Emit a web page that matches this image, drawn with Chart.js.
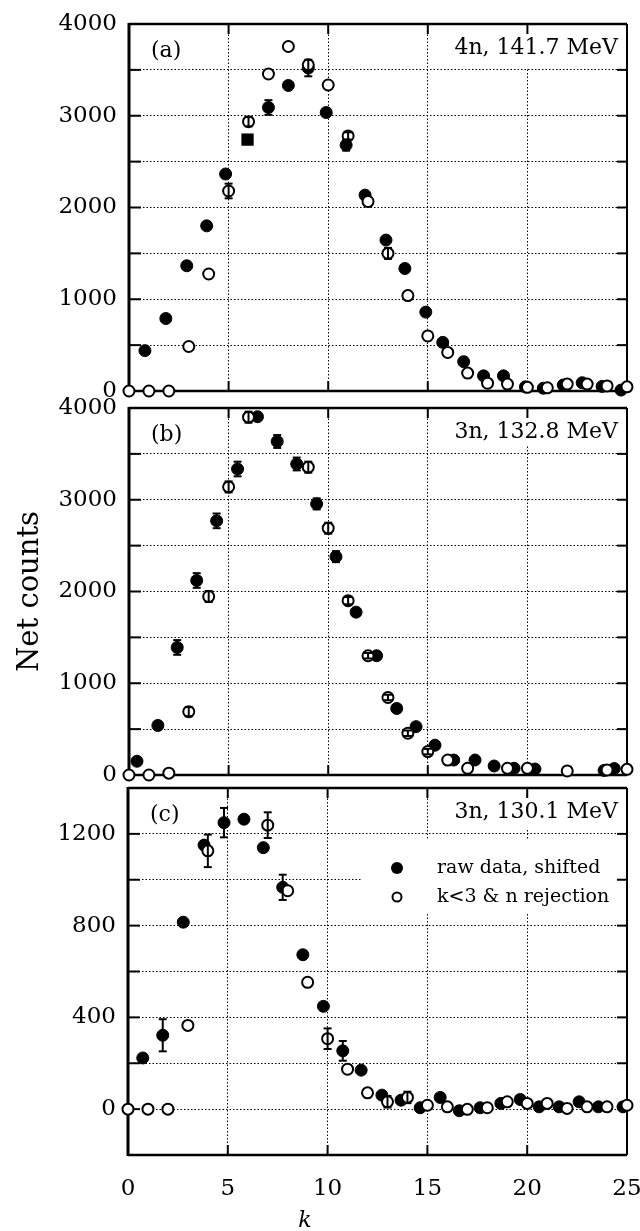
<!DOCTYPE html>
<html>
<head>
<meta charset="utf-8">
<script src="https://cdn.jsdelivr.net/npm/chart.js@4.4.1/dist/chart.umd.min.js"></script>
<style>
  html, body { margin: 0; padding: 0; background: #fff; }
  #wrap { position: relative; width: 640px; height: 1231px; }
  #wrap canvas { position: absolute; left: 0; top: 0; }
</style>
</head>
<body>
<div id="wrap">
  <canvas id="panelA" width="640" height="1231"></canvas>
  <canvas id="panelB" width="640" height="1231"></canvas>
  <canvas id="panelC" width="640" height="1231"></canvas>
</div>
<script>
// (a) 4n, 141.7 MeV
var aOpenK = [0, 1, 2, 3, 4, 5, 6, 7, 8, 9, 10, 11, 12, 13, 14, 15, 16, 17, 18, 19, 20, 21, 22, 23, 24, 25];
var aOpenN = [0, 0, 0, 485, 1275, 2180, 2935, 3455, 3755, 3555, 3335, 2780, 2065, 1500, 1040, 600, 420, 195, 85, 75, 40, 35, 75, 75, 55, 45];
var aOpenErr = [null, null, null, null, null, 80, 50, null, null, null, null, 40, null, 60];
var aRawK = [0.8, 1.85, 2.9, 3.9, 4.85, 7.0, 8.0, 9.0, 9.9, 10.9, 11.85, 12.9, 13.85, 14.9, 15.75, 16.8, 17.8, 18.8, 19.9, 20.8, 21.8, 22.75, 23.75, 24.7];
var aRawN = [440, 790, 1365, 1800, 2365, 3090, 3330, 3520, 3035, 2680, 2135, 1645, 1335, 860, 530, 320, 165, 165, 45, 30, 65, 90, 50, 10];
var aRawErr = [null, null, 40, null, null, 80, null, 90, null, 60, null, 40];
var aSquareK = [5.95];
var aSquareN = [2740];

// (b) 3n, 132.8 MeV
var bOpenK = [0, 1, 2, 3, 4, 5, 6, 9, 10, 11, 12, 13, 14, 15, 16, 17, 19, 20, 22, 24, 25];
var bOpenN = [0, 0, 20, 690, 1945, 3140, 3900, 3355, 2690, 1900, 1300, 845, 455, 255, 163, 73, 73, 73, 44, 55, 62];
var bOpenErr = [null, null, null, 50, 60, 60, 60, 60, 60, 40, 30, 30, 30, 30];
var bRawK = [0.4, 1.45, 2.42, 3.4, 4.4, 5.45, 6.45, 7.44, 8.42, 9.42, 10.39, 11.4, 12.43, 13.44, 14.41, 15.36, 16.3, 17.37, 18.33, 19.33, 20.38, 23.85, 24.36];
var bRawN = [150, 540, 1390, 2120, 2770, 3335, 3905, 3635, 3390, 2955, 2380, 1775, 1300, 725, 527, 325, 163, 163, 98, 73, 65, 50, 70];
var bRawErr = [null, 40, 80, 80, 80, 80, null, 70, 70, 60, 60];

// (c) 3n, 130.1 MeV
var cOpenK = [0, 1, 2, 3, 4, 7, 8, 9, 10, 11, 12, 13, 14, 15, 16, 17, 18, 19, 20, 21, 22, 23, 24, 25];
var cOpenN = [0, 0, 0, 365, 1126, 1238, 952, 553, 307, 174, 71, 32, 51, 17, 10, -1, 6, 32, 25, 25, 3, 10, 10, 17];
var cOpenErr = [null, null, null, null, 71, 56, null, null, 45, null, null, 25, 25];
var cRawK = [0.74, 1.74, 2.77, 3.81, 4.81, 5.81, 6.78, 7.75, 8.76, 9.79, 10.76, 11.68, 12.72, 13.68, 14.64, 15.64, 16.6, 17.64, 18.68, 19.65, 20.6, 21.6, 22.6, 23.57, 24.8];
var cRawN = [223, 322, 815, 1151, 1249, 1264, 1140, 967, 673, 448, 254, 170, 61, 39, 6, 51, -7, 6, 25, 42, 10, 10, 32, 10, 10];
var cRawErr = [null, 70, null, null, 64, null, null, 55, null, null, 43];

var xTicks = [0, 5, 10, 15, 20, 25];
var legendLabels = ['raw data, shifted', 'k<3 & n rejection'];

var serif = 'DejaVu Serif';

function pts(ks, ns) {
    return ks.map(function (k, i) { return { x: k, y: ns[i] }; });
}

function openSet(ks, ns, errs) {
    return {
        label: legendLabels[1], data: pts(ks, ns), errors: errs,
        pointStyle: 'circle', pointRadius: 5.5, pointHoverRadius: 5.5,
        pointBackgroundColor: '#fff', pointBorderColor: '#000', pointBorderWidth: 2,
        showLine: false, clip: false
    };
}

function rawSet(ks, ns, errs) {
    return {
        label: legendLabels[0], data: pts(ks, ns), errors: errs,
        pointStyle: 'circle', pointRadius: 6, pointHoverRadius: 6,
        pointBackgroundColor: '#000', pointBorderColor: '#000', pointBorderWidth: 1,
        showLine: false, clip: false
    };
}

function line(ctx, x1, y1, x2, y2) {
    ctx.beginPath();
    ctx.moveTo(x1, y1);
    ctx.lineTo(x2, y2);
    ctx.stroke();
}

// frame, inward ticks, white boxes and panel texts
var frameDecor = {
    id: 'frameDecor',
    beforeDatasetsDraw: function (chart) {
        var o = chart.options.plugins.frameDecor;
        var ctx = chart.ctx, a = chart.chartArea;
        var xs = chart.scales.x, ys = chart.scales.y;
        ctx.save();
        ctx.fillStyle = '#fff';
        o.boxes.forEach(function (b) {
            ctx.fillRect(a.left + b[0], a.top + b[1], b[2], b[3]);
        });

        ctx.strokeStyle = '#000';
        ctx.lineWidth = 2;
        ys.ticks.forEach(function (t) {
            var y = ys.getPixelForValue(t.value);
            line(ctx, a.left, y, a.left + 12, y);
            line(ctx, a.right - 10, y, a.right, y);
        });
        xs.ticks.forEach(function (t) {
            var x = xs.getPixelForValue(t.value);
            line(ctx, x, a.top, x, a.top + 10);
            line(ctx, x, a.bottom - 10, x, a.bottom);
        });
        ctx.lineWidth = 3;
        line(ctx, a.left, a.top - 1, a.left, a.bottom + 1);
        ctx.lineWidth = 2.5;
        line(ctx, a.left, a.top, a.right, a.top);
        line(ctx, a.left, a.bottom, a.right, a.bottom);
        ctx.lineWidth = 2;
        line(ctx, a.right, a.top, a.right, a.bottom);

        ctx.fillStyle = '#000';
        ctx.textBaseline = 'middle';
        ctx.font = '22px "' + serif + '"';
        ctx.textAlign = 'left';
        ctx.fillText(o.tag, a.left + 22, a.top + 27);
        ctx.textAlign = 'right';
        ctx.fillText(o.title, a.right - 9, a.top + 24);

        if (o.legend) {
            ctx.font = '19px "' + serif + '"';
            ctx.textAlign = 'left';
            ctx.beginPath();
            ctx.arc(a.left + 269, a.top + 80, 6, 0, Math.PI * 2);
            ctx.fill();
            ctx.fillText(legendLabels[0], a.left + 309, a.top + 80);
            ctx.beginPath();
            ctx.lineWidth = 2;
            ctx.arc(a.left + 269, a.top + 109, 4.5, 0, Math.PI * 2);
            ctx.stroke();
            ctx.fillText(legendLabels[1], a.left + 309, a.top + 109);
        }
        if (o.yTitle) {
            ctx.save();
            ctx.translate(30, (a.top + a.bottom) / 2);
            ctx.rotate(-Math.PI / 2);
            ctx.textAlign = 'center';
            ctx.font = '29px "' + serif + '"';
            ctx.fillText(o.yTitle, 0, 0);
            ctx.restore();
        }
        if (o.xTitle) {
            ctx.textAlign = 'center';
            ctx.font = 'italic 22px "' + serif + '"';
            ctx.fillText(o.xTitle, 305, 1221);
        }
        ctx.restore();
    },
    // error bars with caps, drawn over the markers
    afterDatasetsDraw: function (chart) {
        var ctx = chart.ctx, ys = chart.scales.y;
        ctx.save();
        ctx.strokeStyle = '#000';
        ctx.lineWidth = 2;
        chart.data.datasets.forEach(function (ds, di) {
            if (!ds.errors) return;
            var meta = chart.getDatasetMeta(di);
            ds.errors.forEach(function (e, i) {
                if (!e) return;
                var p = meta.data[i];
                var v = ds.data[i].y;
                var y1 = ys.getPixelForValue(v + e), y2 = ys.getPixelForValue(v - e);
                line(ctx, p.x, y1, p.x, y2);
                line(ctx, p.x - 4, y1, p.x + 4, y1);
                line(ctx, p.x - 4, y2, p.x + 4, y2);
            });
        });
        ctx.restore();
    }
};

function makePanel(id, cfg) {
    var ctx = document.getElementById(id).getContext('2d');
    return new Chart(ctx, {
        type: 'scatter',
        data: { datasets: cfg.datasets },
        plugins: [frameDecor],
        options: {
            responsive: false,
            animation: false,
            events: [],
            layout: { padding: { left: 0, right: 13, top: cfg.top, bottom: cfg.bottom } },
            plugins: {
                legend: { display: false },
                tooltip: { enabled: false },
                frameDecor: cfg.decor
            },
            scales: {
                x: {
                    type: 'linear', min: 0, max: 25,
                    afterBuildTicks: function (s) { s.ticks = xTicks.map(function (v) { return { value: v }; }); },
                    afterFit: function (s) {
                        s.height = cfg.xHeight;
                        s.paddingLeft = 0;
                        s.paddingRight = 0;
                    },
                    ticks: {
                        display: cfg.xLabels, padding: 20, color: '#000', maxRotation: 0,
                        font: { family: serif, size: 23 }
                    },
                    grid: { color: '#000', lineWidth: 1, drawTicks: false },
                    border: { display: false, dash: [1.5, 2] }
                },
                y: {
                    min: cfg.ymin, max: cfg.ymax,
                    afterFit: function (s) {
                        s.width = cfg.left;
                        s.paddingTop = 0;
                        s.paddingBottom = 0;
                    },
                    ticks: {
                        stepSize: cfg.gridStep, padding: 12, color: '#000',
                        font: { family: serif, size: 23 },
                        callback: function (v) { return (v >= 0 && v % cfg.labelStep === 0) ? v : ''; }
                    },
                    grid: { color: '#000', lineWidth: 1, drawTicks: false },
                    border: { display: false, dash: [1.5, 2] }
                }
            }
        }
    });
}

makePanel('panelA', {
    top: 24, bottom: 1231 - 391, left: 129, xHeight: 0, xLabels: false,
    ymin: 0, ymax: 4000, gridStep: 500, labelStep: 1000,
    datasets: [
        openSet(aOpenK, aOpenN, aOpenErr),
        rawSet(aRawK, aRawN, aRawErr),
        {
            label: 'square', data: pts(aSquareK, aSquareN),
            pointStyle: 'rect', pointRadius: 8.7, pointHoverRadius: 8.7,
            pointBackgroundColor: '#000', pointBorderColor: '#000', pointBorderWidth: 0,
            showLine: false, clip: false
        }
    ],
    decor: { tag: '(a)', title: '4n, 141.7 MeV', boxes: [[302, 2, 194, 42]] }
});

makePanel('panelB', {
    top: 408, bottom: 1231 - 775, left: 129, xHeight: 0, xLabels: false,
    ymin: 0, ymax: 4000, gridStep: 500, labelStep: 1000,
    datasets: [
        openSet(bOpenK, bOpenN, bOpenErr),
        rawSet(bRawK, bRawN, bRawErr)
    ],
    decor: { tag: '(b)', title: '3n, 132.8 MeV', boxes: [[303, 2, 193, 36]], yTitle: 'Net counts' }
});

makePanel('panelC', {
    top: 788, bottom: 1231 - 1155 - 50, left: 128, xHeight: 50, xLabels: true,
    ymin: -200, ymax: 1400, gridStep: 200, labelStep: 400,
    datasets: [
        openSet(cOpenK, cOpenN, cOpenErr),
        rawSet(cRawK, cRawN, cRawErr)
    ],
    decor: {
        tag: '(c)', title: '3n, 130.1 MeV', boxes: [[306, 2, 191, 38], [234, 52, 263, 72]],
        legend: true, xTitle: 'k'
    }
});
</script>
</body>
</html>
